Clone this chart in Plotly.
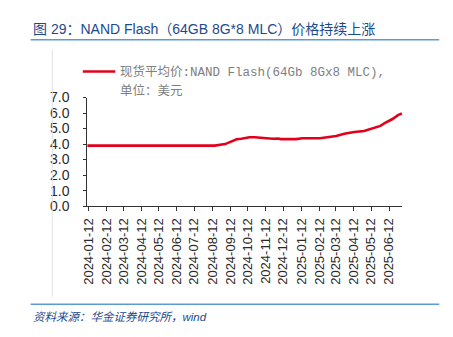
import plotly.graph_objects as go

# Spot average price, NAND Flash 64Gb 8Gx8 MLC (USD)
dates = [
    "2024-01-10", "2024-02-12", "2024-03-12", "2024-04-12", "2024-05-12",
    "2024-06-12", "2024-07-12", "2024-08-16", "2024-09-03", "2024-09-14",
    "2024-09-23", "2024-10-01", "2024-10-15", "2024-10-24", "2024-11-07",
    "2024-11-24", "2024-12-03", "2024-12-08", "2025-01-03", "2025-01-14",
    "2025-02-13", "2025-02-27", "2025-03-13", "2025-03-27", "2025-04-13",
    "2025-04-30", "2025-05-11", "2025-05-28", "2025-06-06", "2025-06-17",
    "2025-06-28", "2025-07-04",
]
prices = [
    3.90, 3.90, 3.90, 3.90, 3.90,
    3.90, 3.90, 3.90, 4.00, 4.17,
    4.31, 4.34, 4.44, 4.44, 4.38,
    4.34, 4.36, 4.32, 4.32, 4.38,
    4.38, 4.44, 4.52, 4.66, 4.78,
    4.84, 4.96, 5.17, 5.39, 5.60,
    5.88, 5.97,
]

tick_dates = [
    "2024-01-12", "2024-02-12", "2024-03-12", "2024-04-12", "2024-05-12",
    "2024-06-12", "2024-07-12", "2024-08-12", "2024-09-12", "2024-10-12",
    "2024-11-12", "2024-12-12", "2025-01-12", "2025-02-12", "2025-03-12",
    "2025-04-12", "2025-05-12", "2025-06-12",
]
y_ticks = [0, 1, 2, 3, 4, 5, 6, 7]

title_text = "图 29：NAND Flash（64GB 8G*8 MLC）价格持续上涨"
legend_line1 = "现货平均价:NAND Flash(64Gb 8Gx8 MLC),"
legend_line2 = "单位：美元"
source_text = "资料来源：华金证券研究所，wind"

W, H = 453, 337
RED = "#e3001b"
BLUE_TXT = "#1b4a8c"
BLUE_RULE = "#5b9bd5"


def px(x):
    return x / W


def py(y):
    return 1 - y / H


fig = go.Figure()
fig.add_trace(go.Scatter(
    x=dates, y=prices, mode="lines",
    line=dict(color=RED, width=2.6),
    showlegend=False, hoverinfo="skip",
))

fig.update_layout(
    width=W, height=H,
    margin=dict(l=0, r=0, t=0, b=0),
    paper_bgcolor="white", plot_bgcolor="white",
    font=dict(family="Liberation Sans, Arial, sans-serif", color="#000000"),
    xaxis=dict(
        domain=[px(81.5), px(401.7)],
        type="date",
        range=["2024-01-10", "2025-07-05"],
        tickvals=tick_dates, ticktext=tick_dates,
        tickangle=-90,
        tickfont=dict(size=13, color="#2a2a2a"),
        ticks="outside", ticklen=4, tickcolor="#333333",
        ticklabelstandoff=2,
        showline=True, linecolor="#333333", linewidth=1,
        showgrid=False, zeroline=False,
    ),
    yaxis=dict(
        domain=[py(208), py(94)],
        range=[0, 7],
        tickvals=y_ticks, ticktext=[f"{v:.1f}" for v in y_ticks],
        tickfont=dict(size=14, color="#2a2a2a"),
        ticks="outside", ticklen=3, tickcolor="#333333",
        ticklabelstandoff=11,
        showline=True, linecolor="#333333", linewidth=1,
        showgrid=False, zeroline=False,
    ),
)

shapes = [
    # rule under the title
    dict(type="line", xref="paper", yref="paper",
         x0=px(24), x1=px(439), y0=py(33.3), y1=py(33.3),
         line=dict(color=BLUE_RULE, width=1.5)),
    # rule above the source note
    dict(type="line", xref="paper", yref="paper",
         x0=px(24), x1=px(439), y0=py(311), y1=py(311),
         line=dict(color=BLUE_RULE, width=1.5)),
    # faint left border of the chart frame
    dict(type="line", xref="paper", yref="paper",
         x0=px(46), x1=px(46), y0=py(44), y1=py(303),
         line=dict(color="#e2e2e2", width=1)),
    # legend key
    dict(type="line", xref="paper", yref="paper",
         x0=px(77), x1=px(110), y0=py(66.7), y1=py(66.7),
         line=dict(color=RED, width=2.6)),
]

annotations = [
    dict(text=title_text, xref="paper", yref="paper",
         x=px(24), y=py(22), xanchor="left", yanchor="middle",
         showarrow=False,
         font=dict(family="Liberation Sans, Noto Sans CJK SC, sans-serif",
                   size=14, color=BLUE_TXT)),
    dict(text=legend_line1, xref="paper", yref="paper",
         x=px(113), y=py(67), xanchor="left", yanchor="middle",
         showarrow=False,
         font=dict(family="Liberation Mono, Noto Sans CJK SC, monospace",
                   size=12.5, color="#808080")),
    dict(text=legend_line2, xref="paper", yref="paper",
         x=px(113), y=py(87), xanchor="left", yanchor="middle",
         showarrow=False,
         font=dict(family="Liberation Mono, Noto Sans CJK SC, monospace",
                   size=12.5, color="#808080")),
    dict(text="<i>" + source_text + "</i>", xref="paper", yref="paper",
         x=px(24), y=py(324.5), xanchor="left", yanchor="middle",
         showarrow=False,
         font=dict(family="Liberation Sans, Noto Sans CJK SC, sans-serif",
                   size=11.5, color=BLUE_TXT)),
]

fig.update_layout(shapes=shapes, annotations=annotations)
fig.write_html("out.html")
